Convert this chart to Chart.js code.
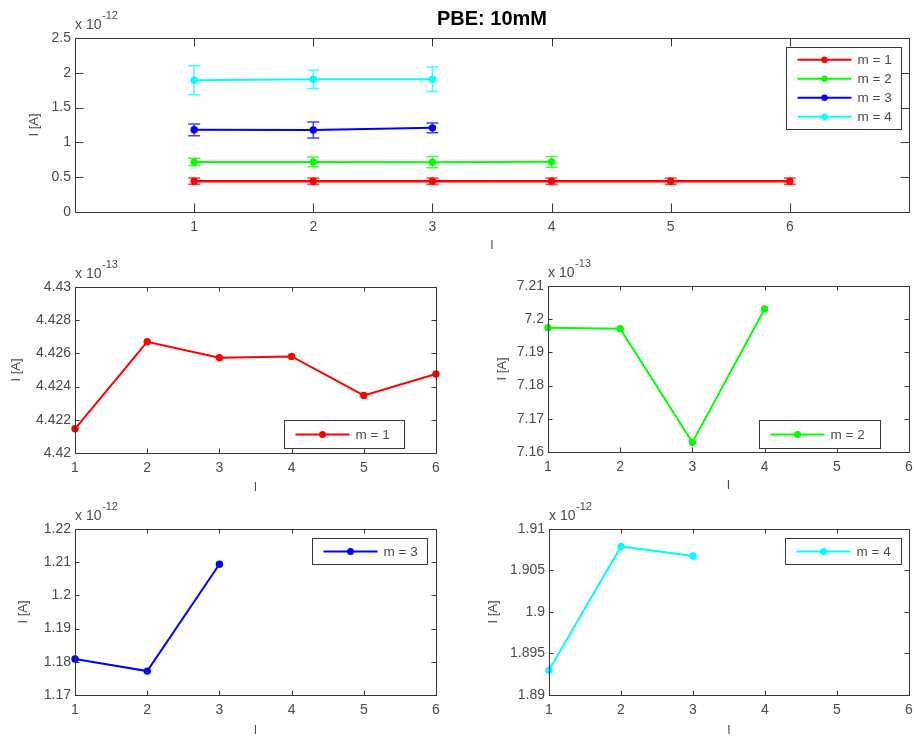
<!DOCTYPE html>
<html>
<head>
<meta charset="utf-8">
<script src="https://cdn.jsdelivr.net/npm/chart.js@4.4.1/dist/chart.umd.min.js"></script>
<style>
  html, body { margin: 0; padding: 0; background: #fff; width: 914px; height: 736px; overflow: hidden; }
  canvas { position: absolute; }
</style>
</head>
<body>
<canvas id="cTop"></canvas>
<canvas id="c1"></canvas>
<canvas id="c2"></canvas>
<canvas id="c3"></canvas>
<canvas id="c4"></canvas>
<script>
// x positions (l)
const lValues = [1, 2, 3, 4, 5, 6];

// current per m, in the units of each small plot
const m1Values = [4.42146, 4.42670, 4.42574, 4.42582, 4.42347, 4.42476]; // x 1e-13
const m2Values = [7.19746, 7.19716, 7.16290, 7.20310];                   // x 1e-13
const m3Values = [1.18084, 1.17720, 1.20940];                            // x 1e-12
const m4Values = [1.89298, 1.90790, 1.90674];                            // x 1e-12

// error bars in the top plot (x 1e-12)
const m1Err = [0.045, 0.045, 0.045, 0.045, 0.045, 0.045];
const m2Err = [0.053, 0.070, 0.080, 0.077];
const m3Err = [0.084, 0.115, 0.070];
const m4Err = [0.210, 0.134, 0.175];

const seriesLabels = ['m = 1', 'm = 2', 'm = 3', 'm = 4'];
const seriesColors = ['#ff0000', '#00ff00', '#0000ff', '#00ffff'];

// tick labels
const xTicks = [1, 2, 3, 4, 5, 6];
const topYTicks = [0, 0.5, 1, 1.5, 2, 2.5];
const m1YTicks = [4.42, 4.422, 4.424, 4.426, 4.428, 4.43];
const m2YTicks = [7.16, 7.17, 7.18, 7.19, 7.2, 7.21];
const m3YTicks = [1.17, 1.18, 1.19, 1.2, 1.21, 1.22];
const m4YTicks = [1.89, 1.895, 1.9, 1.905, 1.91];

const FONT = "'Liberation Sans', Arial, Helvetica, sans-serif";
const TEXT = '#4a4a4a';
const LINE = '#363636';
Chart.defaults.font.family = FONT;

const toPoints = (vals, k) => vals.map((v, i) => ({ x: lValues[i], y: v * k }));
const fmt = v => String(Number(v.toFixed(5)));

// matlab-like box, inward ticks, exponent label, title, legend, error bars
const matlabAxes = {
  id: 'matlabAxes',
  beforeDatasetsDraw(chart, args, o) {
    if (!o.errors) return;
    const ctx = chart.ctx, xs = chart.scales.x, ys = chart.scales.y;
    chart.data.datasets.forEach((ds, i) => {
      const err = o.errors[i];
      ctx.save();
      ctx.strokeStyle = ds.borderColor;
      ctx.globalAlpha = 0.75;
      ctx.lineWidth = 1.5;
      ds.data.forEach((p, j) => {
        const px = xs.getPixelForValue(p.x);
        const y1 = ys.getPixelForValue(p.y + err[j]);
        const y2 = ys.getPixelForValue(p.y - err[j]);
        ctx.beginPath();
        ctx.moveTo(px, y1); ctx.lineTo(px, y2);
        ctx.moveTo(px - 6, y1); ctx.lineTo(px + 6, y1);
        ctx.moveTo(px - 6, y2); ctx.lineTo(px + 6, y2);
        ctx.stroke();
      });
      ctx.restore();
    });
  },
  afterDraw(chart, args, o) {
    const ctx = chart.ctx;
    const { left, top, right, bottom } = chart.chartArea;
    const xs = chart.scales.x, ys = chart.scales.y;
    const tl = o.tickLen;
    ctx.save();
    ctx.strokeStyle = LINE;
    ctx.lineWidth = 1;
    ctx.beginPath();
    xs.ticks.forEach(t => {
      const px = Math.round(xs.getPixelForValue(t.value)) + 0.5;
      ctx.moveTo(px, bottom); ctx.lineTo(px, bottom - tl);
      ctx.moveTo(px, top); ctx.lineTo(px, top + tl);
    });
    ys.ticks.forEach(t => {
      const py = Math.round(ys.getPixelForValue(t.value)) + 0.5;
      ctx.moveTo(left, py); ctx.lineTo(left + tl, py);
      ctx.moveTo(right, py); ctx.lineTo(right - tl, py);
    });
    ctx.stroke();
    ctx.strokeRect(Math.round(left) + 0.5, Math.round(top) + 0.5, Math.round(right - left), Math.round(bottom - top));

    // exponent
    ctx.fillStyle = TEXT;
    ctx.textBaseline = 'alphabetic';
    ctx.textAlign = 'left';
    ctx.font = '14px ' + FONT;
    ctx.fillText('x 10', left, top - 8.7);
    const w = ctx.measureText('x 10').width;
    ctx.font = '11px ' + FONT;
    ctx.fillText(o.exponent, left + w + 0.5, top - 19.5);

    if (o.title) {
      ctx.fillStyle = '#000';
      ctx.font = 'bold 20px ' + FONT;
      ctx.textAlign = 'center';
      ctx.fillText(o.title, (left + right) / 2, 25);
    }

    // legend
    const L = o.legend;
    const bx = Math.round(left + L.dx) + 0.5, by = Math.round(top + L.dy) + 0.5;
    ctx.fillStyle = '#fff';
    ctx.fillRect(bx, by, L.w, L.h);
    ctx.strokeStyle = LINE;
    ctx.strokeRect(bx, by, L.w, L.h);
    chart.data.datasets.forEach((ds, i) => {
      const ry = by + L.first + i * L.step;
      ctx.strokeStyle = ds.borderColor;
      ctx.lineWidth = 2;
      ctx.beginPath();
      ctx.moveTo(bx + 11, ry); ctx.lineTo(bx + 65, ry);
      ctx.stroke();
      ctx.fillStyle = ds.borderColor;
      ctx.beginPath();
      ctx.arc(bx + 38, ry, L.r, 0, Math.PI * 2);
      ctx.fill();
      ctx.fillStyle = TEXT;
      ctx.font = '13.5px ' + FONT;
      ctx.textAlign = 'left';
      ctx.textBaseline = 'middle';
      ctx.fillText(ds.label, bx + 71, ry + 0.5);
    });
    ctx.restore();
  }
};

function makeChart(id, box, area, cfg) {
  const cv = document.getElementById(id);
  cv.width = box.w; cv.height = box.h;
  cv.style.left = box.x + 'px'; cv.style.top = box.y + 'px';
  const yW = area.l - box.x;
  const xH = box.y + box.h - area.b;
  return new Chart(cv, {
    type: 'line',
    data: { datasets: cfg.datasets },
    options: {
      responsive: false,
      animation: false,
      events: [],
      layout: { padding: { top: area.t - box.y, right: box.x + box.w - area.r, left: 0, bottom: 0 } },
      plugins: {
        legend: { display: false },
        tooltip: { enabled: false },
        matlabAxes: cfg.decor
      },
      scales: {
        x: {
          type: 'linear', min: cfg.xMin, max: cfg.xMax,
          grid: { display: false, drawTicks: false }, border: { display: false },
          ticks: { color: TEXT, font: { size: 14 }, padding: 7, maxRotation: 0, callback: fmt },
          afterBuildTicks: s => { s.ticks = xTicks.map(v => ({ value: v })); },
          afterFit: s => { s.height = xH; s.paddingLeft = 0; s.paddingRight = 0; },
          title: { display: true, text: 'l', color: TEXT, font: { size: 13 }, padding: { top: 4, bottom: 4 } }
        },
        y: {
          type: 'linear', min: cfg.yTicks[0], max: cfg.yTicks[cfg.yTicks.length - 1],
          grid: { display: false, drawTicks: false }, border: { display: false },
          ticks: { color: TEXT, font: { size: 14 }, padding: 4, callback: fmt },
          afterBuildTicks: s => { s.ticks = cfg.yTicks.map(v => ({ value: v })); },
          afterFit: s => { s.width = yW; s.paddingTop = 0; s.paddingBottom = 0; },
          title: { display: true, text: 'I [A]', color: TEXT, font: { size: 13 }, padding: { top: 4, bottom: 4 } }
        }
      }
    },
    plugins: [matlabAxes]
  });
}

function ds(i, points, width, r) {
  return {
    label: seriesLabels[i], data: points,
    borderColor: seriesColors[i], backgroundColor: seriesColors[i],
    pointBackgroundColor: seriesColors[i], pointBorderColor: seriesColors[i],
    borderWidth: width, pointRadius: r, pointBorderWidth: 0, tension: 0, clip: false
  };
}

// top: all m together, x 1e-12
makeChart('cTop', { x: 23, y: 0, w: 891, h: 257 }, { l: 75, t: 38, r: 909, b: 212 }, {
  xMin: 0, xMax: 7, yTicks: topYTicks,
  datasets: [
    ds(0, toPoints(m1Values, 0.1), 2.5, 3.7),
    ds(1, toPoints(m2Values, 0.1), 2, 3.7),
    ds(2, toPoints(m3Values, 1), 2, 3.7),
    ds(3, toPoints(m4Values, 1), 2, 3.7)
  ],
  decor: {
    tickLen: 8.5, exponent: '-12', title: 'PBE: 10mM',
    errors: [m1Err, m2Err, m3Err, m4Err],
    legend: { dx: 711, dy: 9, w: 115, h: 82, first: 12.3, step: 19, r: 3.2 }
  }
});

makeChart('c1', { x: 5, y: 250, w: 441, h: 249 }, { l: 75, t: 287, r: 436, b: 453 }, {
  xMin: 1, xMax: 6, yTicks: m1YTicks,
  datasets: [ds(0, toPoints(m1Values, 1), 2, 3.7)],
  decor: { tickLen: 4.5, exponent: '-13', legend: { dx: 209, dy: 133, w: 120, h: 28, first: 14, step: 0, r: 3.5 } }
});

makeChart('c2', { x: 491, y: 250, w: 423, h: 247 }, { l: 548, t: 286, r: 909, b: 452 }, {
  xMin: 1, xMax: 6, yTicks: m2YTicks,
  datasets: [ds(1, toPoints(m2Values, 1), 2, 3.7)],
  decor: { tickLen: 4.5, exponent: '-13', legend: { dx: 211, dy: 134, w: 121, h: 28, first: 14, step: 0, r: 3.5 } }
});

makeChart('c3', { x: 12, y: 492, w: 434, h: 250 }, { l: 75, t: 529, r: 436, b: 695 }, {
  xMin: 1, xMax: 6, yTicks: m3YTicks,
  datasets: [ds(2, toPoints(m3Values, 1), 2, 3.7)],
  decor: { tickLen: 4.5, exponent: '-12', legend: { dx: 237, dy: 9, w: 115, h: 26, first: 13, step: 0, r: 3.5 } }
});

makeChart('c4', { x: 482, y: 492, w: 432, h: 250 }, { l: 549, t: 529, r: 909, b: 695 }, {
  xMin: 1, xMax: 6, yTicks: m4YTicks,
  datasets: [ds(3, toPoints(m4Values, 1), 2, 3.7)],
  decor: { tickLen: 4.5, exponent: '-12', legend: { dx: 236, dy: 9, w: 116, h: 26, first: 13, step: 0, r: 3.5 } }
});
</script>
</body>
</html>
